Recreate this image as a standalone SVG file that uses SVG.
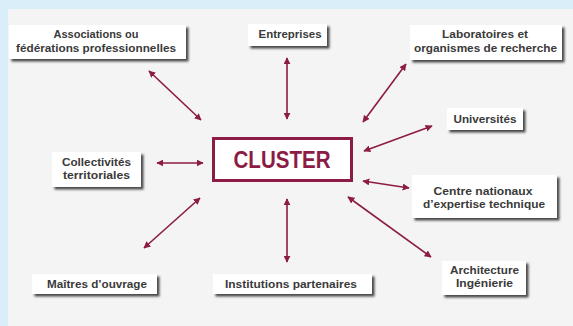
<svg xmlns="http://www.w3.org/2000/svg" width="573" height="326" viewBox="0 0 573 326">
<defs>
<filter id="sh" x="-10%" y="-20%" width="130%" height="160%">
<feDropShadow dx="2.5" dy="2.5" stdDeviation="1.2" flood-color="#2a2a2a" flood-opacity="0.85"/>
</filter>
<marker id="ah" viewBox="0 0 10 10" refX="9" refY="5" markerWidth="7" markerHeight="7" markerUnits="userSpaceOnUse" orient="auto-start-reverse">
<path d="M0,0 L10,5 L0,10 Z" fill="#8c1b45"/>
</marker>
</defs>
<style>
.box{fill:#ffffff;filter:url(#sh)}
.t{font-family:"Liberation Sans Narrow","Liberation Sans",Arial,sans-serif;font-weight:bold;font-size:11.5px;fill:#3a3a3a;text-anchor:middle}
.c{stroke:#8c1b45;stroke-width:1.6;fill:none;marker-start:url(#ah);marker-end:url(#ah)}
</style>
<rect x="0" y="0" width="573" height="326" fill="#d9eef8"/>
<rect x="8" y="9" width="565" height="317" fill="#f4f4f4"/>

<g id="connectors">
<line class="c" x1="201" y1="120" x2="149" y2="71"/>
<line class="c" x1="287" y1="119" x2="287" y2="58"/>
<line class="c" x1="363" y1="122" x2="406" y2="64"/>
<line class="c" x1="364" y1="151" x2="432" y2="126"/>
<line class="c" x1="363" y1="181" x2="409" y2="188"/>
<line class="c" x1="348" y1="197" x2="431" y2="257"/>
<line class="c" x1="287" y1="199" x2="287" y2="262"/>
<line class="c" x1="200" y1="198" x2="144" y2="248"/>
<line class="c" x1="203" y1="163" x2="157" y2="163"/>
</g>

<g id="cluster">
<rect x="213.5" y="138.5" width="138" height="42" fill="#ffffff" stroke="#8c1b45" stroke-width="3"/>
<text x="282" y="168" font-family="'Liberation Sans Narrow','Liberation Sans',Arial,sans-serif" font-weight="bold" font-size="24" fill="#8c1b45" text-anchor="middle" textLength="97" lengthAdjust="spacingAndGlyphs">CLUSTER</text>
</g>

<g id="associations">
<rect class="box" x="9" y="25" width="177" height="34"/>
<text class="t" x="96" y="38" textLength="85" lengthAdjust="spacingAndGlyphs">Associations ou</text>
<text class="t" x="96" y="52" textLength="160" lengthAdjust="spacingAndGlyphs">fédérations professionnelles</text>
</g>

<g id="entreprises">
<rect class="box" x="248" y="24" width="79" height="22"/>
<text class="t" x="290" y="38" textLength="63" lengthAdjust="spacingAndGlyphs">Entreprises</text>
</g>

<g id="laboratoires">
<rect class="box" x="410" y="25" width="152" height="35"/>
<text class="t" x="485" y="38" textLength="86" lengthAdjust="spacingAndGlyphs">Laboratoires et</text>
<text class="t" x="485.5" y="52" textLength="143" lengthAdjust="spacingAndGlyphs">organismes de recherche</text>
</g>

<g id="universites">
<rect class="box" x="447" y="108" width="76" height="22"/>
<text class="t" x="485" y="123" textLength="63" lengthAdjust="spacingAndGlyphs">Universités</text>
</g>

<g id="centre">
<rect class="box" x="412" y="175" width="145" height="43"/>
<text class="t" x="483" y="195" textLength="99" lengthAdjust="spacingAndGlyphs">Centre nationaux</text>
<text class="t" x="484" y="208" textLength="122" lengthAdjust="spacingAndGlyphs">d’expertise technique</text>
</g>

<g id="collectivites">
<rect class="box" x="52" y="152" width="89" height="35"/>
<text class="t" x="96.5" y="166" textLength="69" lengthAdjust="spacingAndGlyphs">Collectivités</text>
<text class="t" x="96.5" y="179" textLength="67" lengthAdjust="spacingAndGlyphs">territoriales</text>
</g>

<g id="maitres">
<rect class="box" x="32" y="274" width="125" height="20"/>
<text class="t" x="97" y="288" textLength="100" lengthAdjust="spacingAndGlyphs">Maîtres d’ouvrage</text>
</g>

<g id="institutions">
<rect class="box" x="213" y="274" width="159" height="20"/>
<text class="t" x="291" y="288" textLength="132" lengthAdjust="spacingAndGlyphs">Institutions partenaires</text>
</g>

<g id="architecture">
<rect class="box" x="442" y="261" width="84" height="34"/>
<text class="t" x="484.5" y="274" textLength="69" lengthAdjust="spacingAndGlyphs">Architecture</text>
<text class="t" x="484.5" y="287" textLength="57" lengthAdjust="spacingAndGlyphs">Ingénierie</text>
</g>
</svg>
